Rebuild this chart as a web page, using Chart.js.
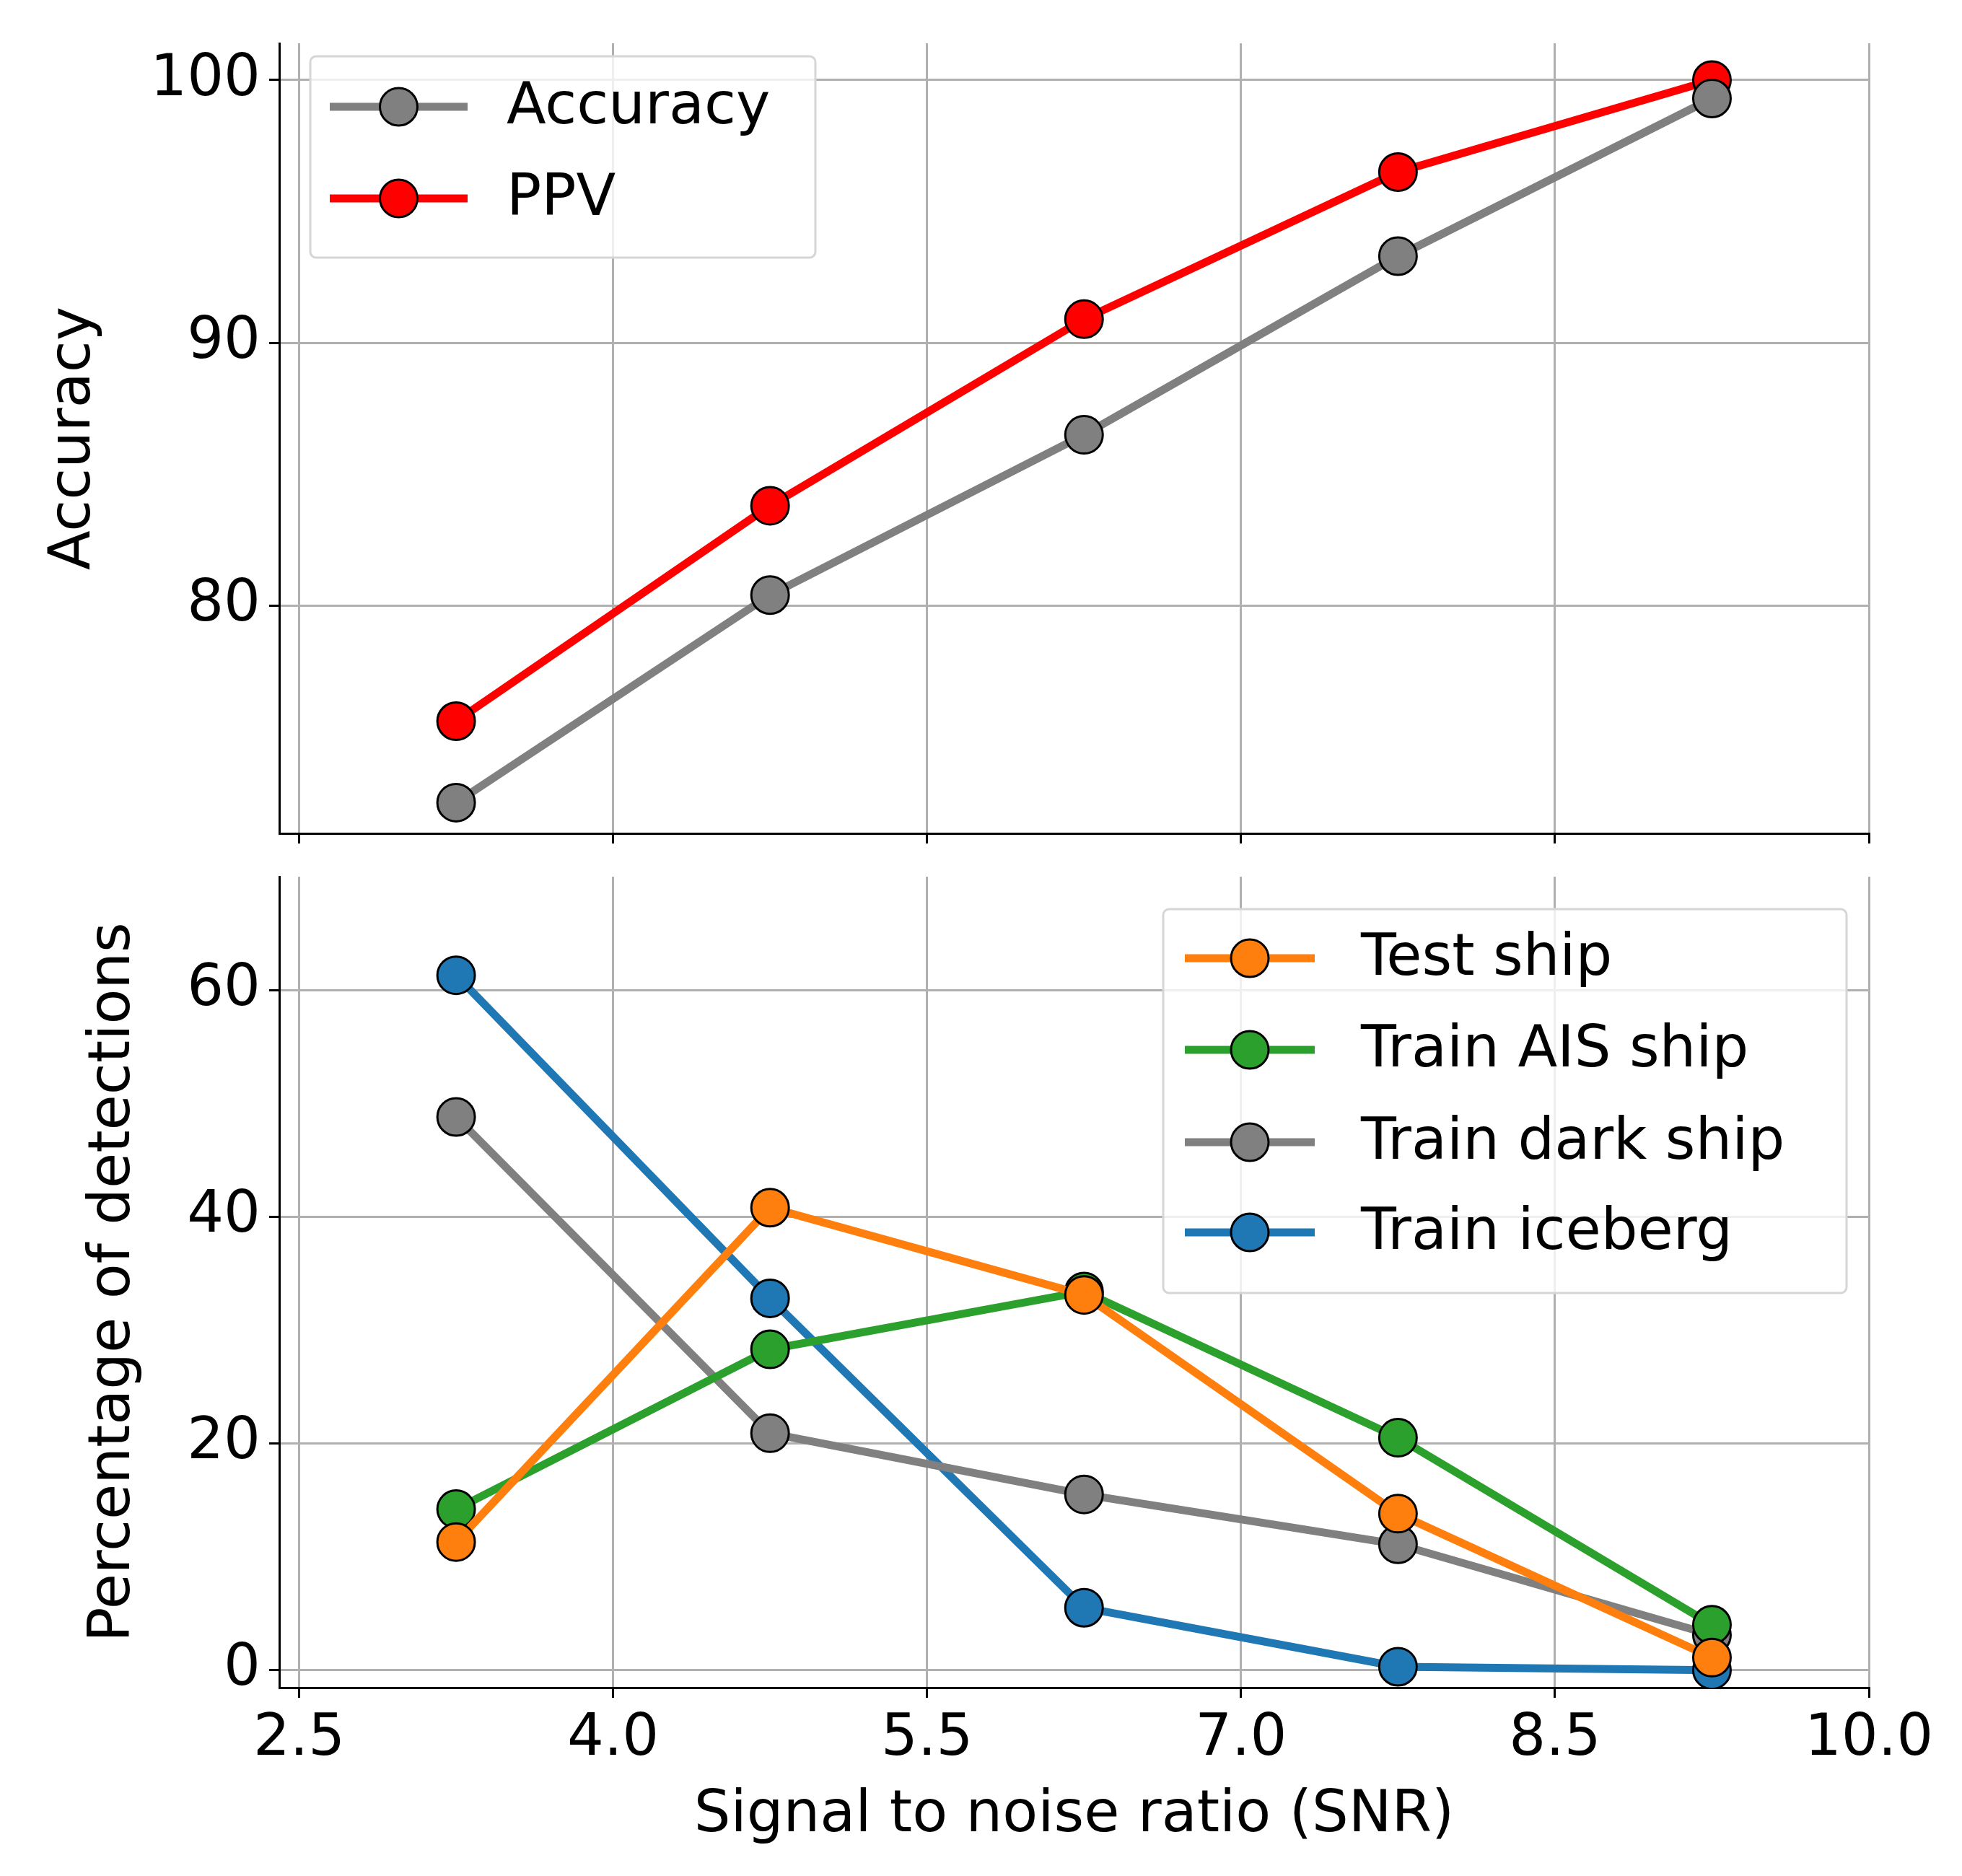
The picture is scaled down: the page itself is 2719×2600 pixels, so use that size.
<!DOCTYPE html>
<html>
<head>
<meta charset="utf-8">
<script src="https://cdn.jsdelivr.net/npm/chart.js@4.4.0/dist/chart.umd.min.js"></script>
<style>
  body { margin: 0; background: #fff; }
  #wrap { position: relative; width: 2719px; height: 2600px; }
</style>
</head>
<body>
<div id="wrap">
  <div style="position:absolute;left:0;top:0;width:2719px;height:1215px"><canvas id="top"></canvas></div>
  <div style="position:absolute;left:0;top:1150px;width:2719px;height:1450px"><canvas id="bottom"></canvas></div>
</div>
<script>
// SNR values (x)
var snr = [3.25, 4.75, 6.25, 7.75, 9.25];
var xTicks = [2.5, 4.0, 5.5, 7.0, 8.5, 10.0];

// top panel
var accuracy = [72.5, 80.4, 86.5, 93.3, 99.3];
var ppv = [75.6, 83.8, 90.9, 96.5, 100.0];
var topTicks = [80, 90, 100];

// bottom panel
var testShip = [11.3, 40.8, 33.1, 13.8, 1.1];
var trainAis = [14.2, 28.3, 33.4, 20.5, 4.0];
var trainDark = [48.8, 20.9, 15.5, 11.1, 3.1];
var trainIceberg = [61.3, 32.8, 5.5, 0.3, 0.0];
var bottomTicks = [0, 20, 40, 60];

var FONT = 'DejaVu Sans';
var FS = 80;
Chart.defaults.font.family = FONT;
Chart.defaults.font.size = FS;
Chart.defaults.color = '#000';

function pts(ys) { return snr.map(function (x, i) { return { x: x, y: ys[i] }; }); }

function ds(label, ys, color) {
  return {
    label: label, data: pts(ys), borderColor: color, backgroundColor: color,
    borderWidth: 11, pointRadius: 26, pointHoverRadius: 26,
    pointBorderColor: '#000', pointBorderWidth: 3, tension: 0
  };
}

// legend box drawn inside the plot area
function legendPlugin(box, rows) {
  return {
    id: 'boxLegend',
    afterDraw: function (chart) {
      var c = chart.ctx;
      c.save();
      c.fillStyle = 'rgba(255,255,255,0.8)';
      c.strokeStyle = '#d6d6d6';
      c.lineWidth = 3;
      c.beginPath();
      c.roundRect(box.x, box.y, box.w, box.h, 8);
      c.fill(); c.stroke();
      chart.data.datasets.forEach(function (d, i) {
        var y = rows.y[i];
        c.strokeStyle = d.borderColor;
        c.lineWidth = 11;
        c.beginPath(); c.moveTo(rows.x0, y); c.lineTo(rows.x1, y); c.stroke();
        c.fillStyle = d.backgroundColor;
        c.strokeStyle = '#000'; c.lineWidth = 3;
        c.beginPath(); c.arc((rows.x0 + rows.x1) / 2, y, 26, 0, Math.PI * 2); c.fill(); c.stroke();
        c.fillStyle = '#000';
        c.font = FS + 'px ' + FONT;
        c.textBaseline = 'middle';
        c.fillText(d.label, rows.tx, y + 2);
      });
      c.restore();
    }
  };
}

function xScale(showLabels, title, h) {
  return {
    type: 'linear', min: 2.405, max: 10.0,
    afterBuildTicks: function (s) { s.ticks = xTicks.map(function (v) { return { value: v }; }); },
    afterFit: function (s) { s.height = h; },
    ticks: {
      display: showLabels, padding: 10,
      callback: function (v) { return v.toFixed(1); }
    },
    grid: { color: '#b0b0b0', lineWidth: 3, tickLength: 14, tickColor: '#000' },
    border: { color: '#000', width: 3 },
    title: { display: !!title, text: title, padding: { top: 0, bottom: 0 } }
  };
}

function yScale(min, max, ticks, title, w) {
  return {
    min: min, max: max,
    afterBuildTicks: function (s) { s.ticks = ticks.map(function (v) { return { value: v }; }); },
    afterFit: function (s) { s.width = w; },
    ticks: { padding: 12 },
    grid: { color: '#b0b0b0', lineWidth: 3, tickLength: 14, tickColor: '#000' },
    border: { color: '#000', width: 3 },
    title: { display: true, text: title, padding: 0 }
  };
}

var common = {
  responsive: true, maintainAspectRatio: false, animation: false,
  plugins: { legend: { display: false }, tooltip: { enabled: false } }
};

new Chart(document.getElementById('top'), {
  type: 'line',
  data: { datasets: [ds('Accuracy', accuracy, '#808080'), ds('PPV', ppv, '#ff0000')] },
  options: Object.assign({}, common, {
    layout: { padding: { top: 31, right: 129, left: 55, bottom: 0 } },
    scales: { x: xScale(false, '', 59), y: yScale(71.33, 101.4, topTicks, 'Accuracy', 332) }
  }),
  plugins: [legendPlugin({ x: 430, y: 78, w: 700, h: 279 }, { x0: 457, x1: 648, tx: 702, y: [148, 275] })]
});

new Chart(document.getElementById('bottom'), {
  type: 'line',
  data: {
    datasets: [
      ds('Test ship', testShip, '#ff7f0e'),
      ds('Train AIS ship', trainAis, '#2ca02c'),
      ds('Train dark ship', trainDark, '#808080'),
      ds('Train iceberg', trainIceberg, '#1f77b4')
    ]
  },
  options: Object.assign({}, common, {
    layout: { padding: { top: 65, right: 129, left: 110, bottom: 35 } },
    scales: { x: xScale(true, 'Signal to noise ratio (SNR)', 226), y: yScale(-1.55, 70, bottomTicks, 'Percentage of detections', 277) }
  }),
  plugins: [legendPlugin({ x: 1612, y: 110, w: 947, h: 532 }, { x0: 1642, x1: 1822, tx: 1886, y: [178, 305, 433, 558] })]
});
</script>
</body>
</html>
